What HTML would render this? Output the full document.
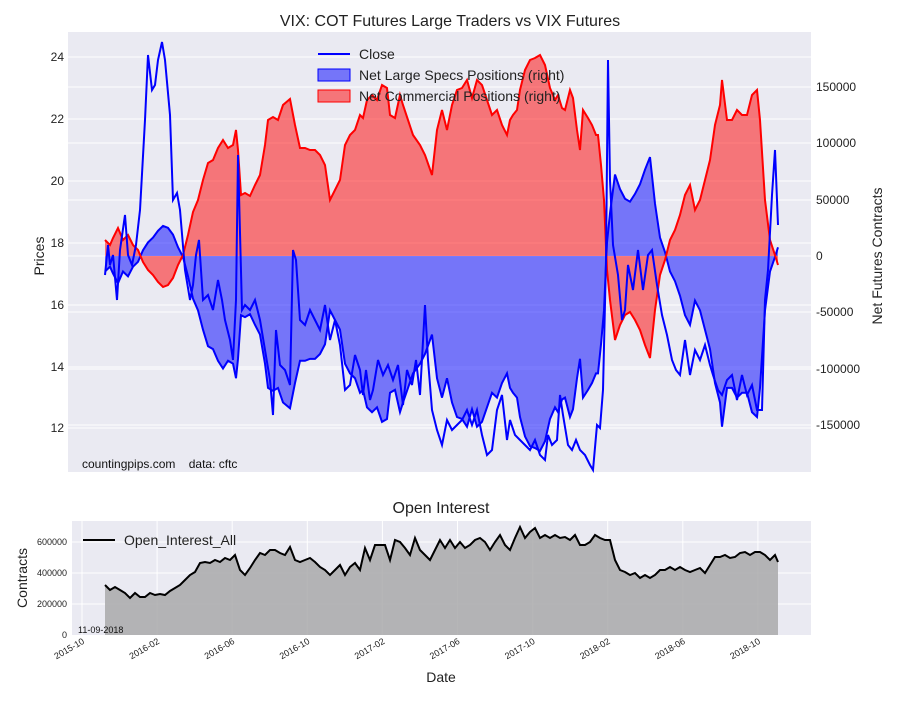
<!DOCTYPE html>
<html><head><meta charset="utf-8"><style>
body{margin:0;background:#fff;width:900px;height:700px;overflow:hidden}
text{font-family:"Liberation Sans",sans-serif}
</style></head><body>
<svg id="s" width="900" height="700" xmlns="http://www.w3.org/2000/svg"></svg>
<script>
const red=[[105,240],[110,245],[113,238],[118,228],[123,240],[128,235],[133,245],[138,250],[143,262],[148,270],[153,275],[158,282],[163,287],[168,285],[173,278],[178,265],[183,255],[188,235],[193,212],[198,200],[203,180],[208,163],[213,160],[218,148],[223,140],[228,148],[233,145],[236,130],[238,150],[241,195],[245,193],[250,196],[255,185],[260,175],[265,145],[268,120],[273,117],[278,120],[283,105],[290,99],[295,125],[300,148],[305,148],[310,150],[315,150],[320,155],[325,165],[330,200],[335,190],[340,180],[345,145],[350,135],[355,130],[360,115],[363,118],[367,100],[372,95],[377,100],[382,85],[387,88],[390,115],[395,118],[400,95],[403,105],[408,120],[413,135],[420,145],[425,155],[432,175],[437,130],[442,110],[447,130],[452,105],[457,90],[462,88],[467,80],[472,98],[477,80],[482,85],[487,100],[492,115],[497,110],[502,125],[507,135],[510,120],[513,115],[517,110],[520,90],[525,70],[530,60],[535,58],[540,55],[545,65],[550,88],[555,100],[558,95],[562,108],[565,110],[570,90],[573,98],[577,130],[580,150],[583,110],[588,118],[592,125],[596,135],[598,135],[601,165],[604,200],[607,270],[610,300],[615,340],[620,325],[625,315],[630,312],[635,320],[640,330],[645,345],[650,358],[655,310],[660,275],[665,260],[670,240],[675,230],[680,215],[685,195],[690,185],[695,210],[700,200],[705,180],[710,160],[715,125],[720,105],[722,80],[727,120],[732,120],[737,110],[742,115],[747,115],[752,95],[757,90],[760,120],[765,200],[770,240],[775,255],[778,265]];
const close=[[105,275],[108,245],[110,265],[113,255],[117,300],[120,250],[125,215],[128,255],[132,265],[136,245],[140,210],[145,120],[148,55],[152,90],[155,85],[158,60],[162,42],[165,60],[170,115],[173,200],[177,193],[180,210],[185,270],[190,300],[193,285],[196,255],[199,240],[203,300],[208,295],[213,310],[218,280],[222,300],[225,320],[230,340],[233,360],[236,300],[238,155],[242,310],[245,305],[250,310],[255,300],[260,320],[265,350],[270,380],[273,415],[276,330],[280,365],[285,370],[290,385],[293,250],[296,260],[300,320],[305,325],[310,310],[315,320],[320,330],[325,305],[330,340],[335,320],[340,345],[345,390],[350,385],[355,355],[360,370],[363,395],[366,370],[370,400],[373,390],[378,360],[383,375],[388,365],[393,380],[398,365],[403,405],[407,370],[412,385],[416,360],[420,395],[425,305],[428,360],[432,410],[437,430],[442,445],[447,420],[452,430],[457,425],[462,420],[467,410],[472,425],[477,410],[482,435],[487,455],[492,450],[497,410],[502,395],[507,440],[510,420],[515,435],[520,440],[525,445],[530,450],[535,440],[540,455],[545,460],[548,435],[552,445],[557,440],[560,395],[563,415],[568,445],[572,450],[576,440],[580,450],[585,455],[590,465],[593,470],[597,425],[600,428],[603,390],[606,260],[608,60],[610,180],[613,245],[618,275],[622,320],[625,310],[628,265],[633,290],[638,250],[643,290],[648,255],[652,250],[657,285],[662,315],[667,335],[672,360],[676,370],[680,375],[685,340],[690,375],[695,350],[700,360],[705,345],[710,365],[713,375],[718,390],[722,395],[727,380],[732,375],[737,400],[742,375],[747,395],[752,385],[757,410],[762,410],[765,300],[768,270],[772,195],[775,150],[778,225]];
const oi=[[105,585],[110,590],[115,587],[120,590],[125,593],[130,598],[135,593],[140,597],[145,597],[150,593],[155,595],[160,594],[165,595],[170,591],[175,588],[180,585],[185,580],[190,575],[195,572],[200,563],[205,562],[210,563],[215,560],[220,562],[225,558],[230,560],[235,555],[240,570],[245,575],[250,568],[255,560],[260,553],[265,555],[270,550],[275,550],[280,553],[285,555],[290,547],[295,560],[300,562],[305,560],[310,558],[315,562],[320,567],[325,570],[330,575],[335,570],[340,565],[345,575],[350,567],[355,563],[360,570],[365,548],[370,560],[375,545],[380,545],[385,545],[390,560],[395,540],[400,542],[405,548],[410,555],[415,538],[420,550],[425,555],[430,560],[435,550],[440,540],[445,548],[450,540],[455,548],[460,542],[465,548],[470,545],[475,540],[480,538],[485,542],[490,550],[495,542],[500,535],[505,545],[510,550],[515,538],[520,527],[525,538],[530,532],[535,528],[540,538],[545,535],[550,538],[555,535],[560,538],[565,537],[570,540],[575,535],[580,545],[585,545],[590,542],[595,535],[600,538],[605,540],[610,540],[615,560],[620,570],[625,572],[630,575],[635,573],[640,578],[645,575],[650,578],[655,575],[660,570],[665,570],[670,567],[675,570],[680,567],[685,570],[690,572],[695,570],[700,568],[705,573],[710,565],[715,557],[720,557],[725,555],[730,558],[735,557],[740,553],[745,552],[750,555],[755,552],[760,552],[765,555],[770,560],[775,555],[778,562]];
const blue=red.map(p=>[p[0],256-(p[1]-256)*0.97]);
const pts=a=>a.map(p=>p.join(',')).join(' ');
let h='';
// top axes
h+='<rect x="68" y="32" width="743" height="440" fill="#eaeaf2"/>';
[57,119,181,243,305,367,428].forEach(y=>h+=`<line x1="68" x2="811" y1="${y}" y2="${y}" stroke="#fff"/>`);
[87,143,200,256,312,369,425].forEach(y=>h+=`<line x1="68" x2="811" y1="${y}" y2="${y}" stroke="#fff"/>`);
h+=`<polygon points="105,256 ${pts(blue)} 778,256" fill="#0000ff" fill-opacity="0.5"/>`;
h+=`<polygon points="105,256 ${pts(red)} 778,256" fill="#ff0000" fill-opacity="0.5"/>`;
h+=`<polyline points="${pts(blue)}" fill="none" stroke="#0000ff" stroke-width="2"/>`;
h+=`<polyline points="${pts(red)}" fill="none" stroke="#ff0000" stroke-width="2"/>`;
h+=`<polyline points="${pts(close)}" fill="none" stroke="#0000ff" stroke-width="2"/>`;
[[57,24],[119,22],[181,20],[243,18],[305,16],[367,14],[428,12]].forEach(([y,t])=>h+=`<text x="64" y="${y+4}" font-size="12" text-anchor="end" fill="#222">${t}</text>`);
[[87,'150000'],[143,'100000'],[200,'50000'],[256,'0'],[312,'-50000'],[369,'-100000'],[425,'-150000']].forEach(([y,t])=>h+=`<text x="816" y="${y+4}" font-size="12" fill="#222">${t}</text>`);
h+='<text x="450" y="26" font-size="16" text-anchor="middle" fill="#222">VIX: COT Futures Large Traders vs VIX Futures</text>';
h+='<text transform="translate(44,256) rotate(-90)" font-size="14" text-anchor="middle" fill="#222">Prices</text>';
h+='<text transform="translate(882,256) rotate(-90)" font-size="14" text-anchor="middle" fill="#222">Net Futures Contracts</text>';
h+='<text x="82" y="468" font-size="12" fill="#111">countingpips.com&#160;&#160;&#160;&#160;data: cftc</text>';
h+='<line x1="318" x2="350" y1="54" y2="54" stroke="#0000ff" stroke-width="2"/><text x="359" y="59" font-size="14" fill="#222">Close</text>';
h+='<rect x="318" y="69" width="32" height="12" fill="#0000ff" fill-opacity="0.5" stroke="#0000ff"/><text x="359" y="80" font-size="14" fill="#222">Net Large Specs Positions (right)</text>';
h+='<rect x="318" y="90" width="32" height="12" fill="#ff0000" fill-opacity="0.5" stroke="#ff0000"/><text x="359" y="101" font-size="14" fill="#222">Net Commercial Positions (right)</text>';
// bottom axes
h+='<rect x="72" y="521" width="739" height="114" fill="#eaeaf2"/>';
[542,573,604].forEach(y=>h+=`<line x1="72" x2="811" y1="${y}" y2="${y}" stroke="#fff"/>`);
const dates=['2015-10','2016-02','2016-06','2016-10','2017-02','2017-06','2017-10','2018-02','2018-06','2018-10'];
dates.forEach((d,i)=>{const x=82+i*75.1;h+=`<line x1="${x}" x2="${x}" y1="521" y2="635" stroke="#fff"/>`;h+=`<text transform="translate(${x+3},643) rotate(-30)" font-size="9" text-anchor="end" fill="#222">${d}</text>`;});
h+=`<polygon points="105,635 ${pts(oi)} 778,635" fill="#a9a9aa" fill-opacity="0.85"/>`;
h+=`<polyline points="${pts(oi)}" fill="none" stroke="#000" stroke-width="2"/>`;
[[542,'600000'],[573,'400000'],[604,'200000'],[635,'0']].forEach(([y,t])=>h+=`<text x="67" y="${y+3}" font-size="9" text-anchor="end" fill="#222">${t}</text>`);
h+='<text x="78" y="633" font-size="9" fill="#111">11-09-2018</text>';
h+='<line x1="83" x2="115" y1="540" y2="540" stroke="#000" stroke-width="2"/><text x="124" y="545" font-size="14" fill="#222">Open_Interest_All</text>';
h+='<text x="441" y="513" font-size="16" text-anchor="middle" fill="#222">Open Interest</text>';
h+='<text transform="translate(27,578) rotate(-90)" font-size="14" text-anchor="middle" fill="#222">Contracts</text>';
h+='<text x="441" y="682" font-size="14" text-anchor="middle" fill="#222">Date</text>';
document.getElementById('s').innerHTML=h;
</script>
</body></html>
